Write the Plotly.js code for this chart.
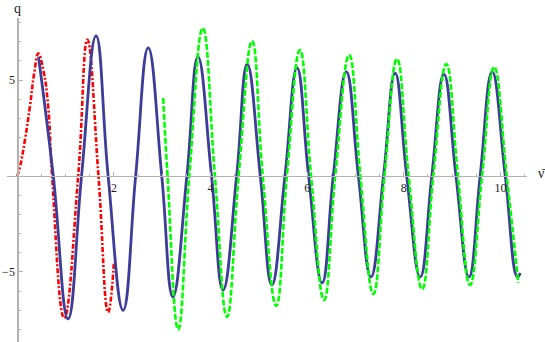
<!DOCTYPE html>
<html>
<head>
<meta charset="utf-8">
<script src="https://cdn.plot.ly/plotly-3.0.1.min.js"></script>
<style>
  html, body { margin: 0; padding: 0; background: #fff; }
  #myDiv { width: 545px; height: 342px; }
</style>
</head>
<body>
<div id="myDiv"></div>
<script>
// values: start, peaks, zero crossings, troughs
var redX = [0, 0.056, 0.16, 0.26, 0.35, 0.435, 0.54, 0.64, 0.72, 0.97, 1.26, 1.45, 1.68, 1.88, 2.0];
var redY = [0, 0.48, 1.9, 3.6, 5.35, 6.38, 5.5, 3.6, 0, -7.4, 0, 7.1, 0, -7.1, -4.5];

var blueX = [0.44, 0.745, 1.05, 1.33, 1.63, 1.88, 2.19, 2.45, 2.71, 2.99, 3.22, 3.51, 3.74, 4.02, 4.26,
             4.54, 4.76, 5.03, 5.27, 5.54, 5.79, 6.03, 6.31, 6.54, 6.81, 7.06, 7.32, 7.58, 7.82,
             8.06, 8.34, 8.58, 8.83, 9.08, 9.35, 9.58, 9.83, 10.10, 10.35, 10.41];
var blueY = [6.2, 0, -7.45, 0, 7.3, 0, -7.0, 0, 6.67, 0, -6.3, 0, 6.2, 0, -5.94,
             0, 5.83, 0, -5.68, 0, 5.63, 0, -5.57, 0, 5.42, 0, -5.26, 0, 5.36,
             0, -5.26, 0, 5.31, 0, -5.26, 0, 5.42, 0, -5.26, -5.05];

var greenX = [3.02, 3.11, 3.33, 3.56, 3.84, 4.09, 4.34, 4.58, 4.86, 5.08, 5.36, 5.58, 5.85, 6.08, 6.35,
              6.58, 6.87, 7.10, 7.37, 7.60, 7.86, 8.10, 8.38, 8.61, 8.88, 9.12, 9.37, 9.62, 9.87, 10.13, 10.37];
var greenY = [4.06, 0, -8.0, 0, 7.7, 0, -7.34, 0, 7.03, 0, -6.77, 0, 6.56, 0, -6.46,
              0, 6.3, 0, -6.15, 0, 6.1, 0, -5.9, 0, 5.83, 0, -5.68, 0, 5.68, 0, -5.57];

var xTicks = [2, 4, 6, 8, 10];
var yTicks = [-5, 5];

var xRange = [-0.213, 10.55];
var yRange = [-8.65, 8.23];

var xMinor = [];
for (var i = 0.5; i <= 10.5; i += 0.5) xMinor.push(i);
var yMinor = [];
for (var j = -8; j <= 8; j += 1) if (j !== 0) yMinor.push(j);

var trace1 = {
    x: redX, y: redY,
    mode: "lines",
    line: { color: "rgb(255, 0, 0)", width: 2.6, dash: "5px,2px,2px,2px", shape: "spline", smoothing: 1.3 },
    hoverinfo: "skip"
};
var trace2 = {
    x: blueX, y: blueY,
    mode: "lines",
    line: { color: "rgb(61, 61, 153)", width: 2.8, shape: "spline", smoothing: 1.3 },
    hoverinfo: "skip"
};
var trace3 = {
    x: greenX, y: greenY,
    mode: "lines",
    line: { color: "rgb(0, 255, 0)", width: 2.6, dash: "6px,2px", shape: "spline", smoothing: 1.3 },
    hoverinfo: "skip"
};

var tickFont = { family: "Liberation Serif, Times New Roman, serif", size: 12, color: "#222" };

var layout = {
    width: 545,
    height: 342,
    margin: { l: 7, r: 18, t: 18, b: 0 },
    paper_bgcolor: "#fff",
    plot_bgcolor: "#fff",
    showlegend: false,
    xaxis: {
        range: xRange,
        anchor: "free",
        position: (0 - yRange[0]) / (yRange[1] - yRange[0]),
        showline: true, linecolor: "#b3b3b3", linewidth: 1.5,
        showgrid: false, zeroline: false,
        tickmode: "array", tickvals: xTicks,
        ticks: "inside", ticklen: 4, tickcolor: "#b3b3b3", tickwidth: 1,
        minor: { tickmode: "array", tickvals: xMinor, ticks: "inside", ticklen: 2, tickcolor: "#b3b3b3" },
        tickfont: tickFont
    },
    yaxis: {
        range: yRange,
        anchor: "free",
        position: (0 - xRange[0]) / (xRange[1] - xRange[0]),
        showline: true, linecolor: "#b3b3b3", linewidth: 1.5,
        showgrid: false, zeroline: false,
        tickmode: "array", tickvals: yTicks,
        ticks: "inside", ticklen: 4, tickcolor: "#b3b3b3", tickwidth: 1,
        minor: { tickmode: "array", tickvals: yMinor, ticks: "inside", ticklen: 2, tickcolor: "#b3b3b3" },
        tickfont: tickFont
    },
    annotations: [
        { text: "q", xref: "x", yref: "paper", x: 0, y: 1, xanchor: "center", yanchor: "bottom",
          showarrow: false, font: { family: "Liberation Serif, serif", size: 14, color: "#222" } },
        { text: "ν\u0304", xref: "paper", yref: "y", x: 1.03, y: 0, xanchor: "center", yanchor: "middle", yshift: 2,
          showarrow: false, font: { family: "Liberation Serif, serif", size: 14, color: "#222" } }
    ]
};

Plotly.newPlot("myDiv", [trace1, trace2, trace3], layout, { displayModeBar: false, staticPlot: true });
</script>
</body>
</html>
